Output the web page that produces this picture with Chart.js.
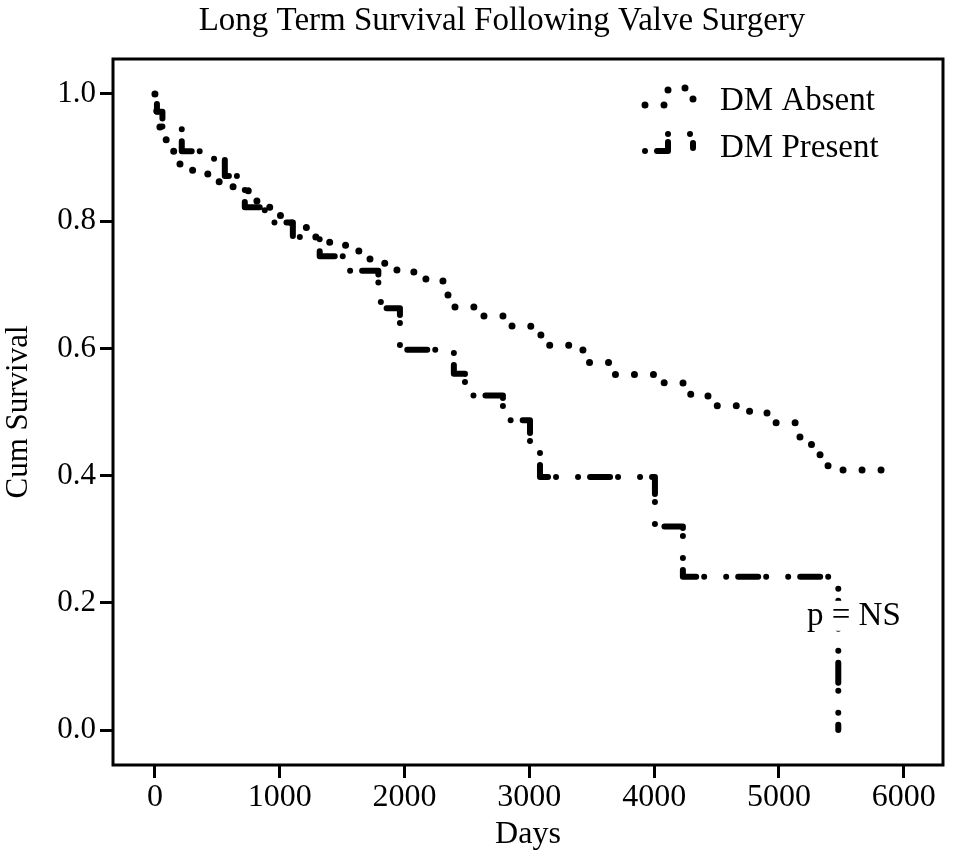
<!DOCTYPE html>
<html>
<head>
<meta charset="utf-8">
<title>Long Term Survival Following Valve Surgery</title>
<script src="https://cdn.jsdelivr.net/npm/chart.js@4/dist/chart.umd.min.js"></script>
<style>
  body { margin: 0; background: #fff; }
  canvas { display: block; }
</style>
</head>
<body>
<canvas class="km-chart" width="954" height="861"></canvas>
<script>
// Kaplan-Meier steps (days, cum survival after the drop)
const absentDays = [0, 15, 40, 90, 160, 250, 360, 460, 545, 680, 817, 921, 1018, 1100, 1218, 1400, 1538, 1723, 1939, 2171, 2348, 2404, 2628, 2861, 3069, 3141, 3429, 3646, 4030, 4231, 4431, 4688, 4904, 5168, 5329, 5393, 5880];
const absentSurv = [1.0, 0.95, 0.93, 0.91, 0.89, 0.88, 0.874, 0.862, 0.854, 0.848, 0.822, 0.809, 0.797, 0.79, 0.775, 0.762, 0.753, 0.734, 0.72, 0.706, 0.683, 0.665, 0.651, 0.635, 0.621, 0.605, 0.578, 0.559, 0.546, 0.528, 0.51, 0.501, 0.483, 0.449, 0.422, 0.409, 0.409];

const presentDays = [0, 16, 60, 215, 385, 560, 705, 720, 880, 1105, 1320, 1520, 1790, 1810, 1963, 2395, 2484, 2788, 3005, 3085, 4006, 4230, 5475];
const presentSurv = [1.0, 0.972, 0.945, 0.91, 0.898, 0.871, 0.861, 0.822, 0.798, 0.775, 0.745, 0.722, 0.69, 0.663, 0.598, 0.56, 0.526, 0.487, 0.443, 0.398, 0.32, 0.241, 0.0];

const xTicks = [0, 1000, 2000, 3000, 4000, 5000, 6000];
const xTickLabels = ['0', '1000', '2000', '3000', '4000', '5000', '6000'];
const yTicks = [0, 0.2, 0.4, 0.6, 0.8, 1.0];
const yTickLabels = ['0.0', '0.2', '0.4', '0.6', '0.8', '1.0'];

const chartTitle = 'Long Term Survival Following Valve Surgery';
const seriesNames = ['DM Absent', 'DM Present'];
const pLabel = 'p = NS';
const pLabelAt = { x: 5600, y: 0.178 };

const serif = '"Liberation Serif", "Times New Roman", serif';
const absentDash = [0, 19];
const presentDash = [0, 12, 20, 8, 0, 22];

function toPoints(days, surv) {
  return days.map((d, i) => ({ x: d, y: surv[i] }));
}

// title, box round the plot, legend and p value
const extras = {
  id: 'extras',
  afterDraw(chart) {
    const ctx = chart.ctx;
    const a = chart.chartArea;
    ctx.save();
    ctx.fillStyle = '#000';
    ctx.font = '33px ' + serif;
    ctx.textAlign = 'center';
    ctx.textBaseline = 'alphabetic';
    ctx.fillText(chartTitle, 502, 30);

    ctx.strokeStyle = '#000';
    ctx.lineWidth = 3;
    ctx.setLineDash([]);
    ctx.strokeRect(a.left, a.top, a.right - a.left, a.bottom - a.top);

    // legend
    const styles = [
      { dash: absentDash, width: 7, base: 105 },
      { dash: presentDash, width: 6, base: 151 }
    ];
    ctx.lineCap = 'round';
    ctx.lineJoin = 'round';
    for (let i = 0; i < styles.length; i++) {
      const s = styles[i];
      ctx.beginPath();
      ctx.setLineDash(s.dash);
      ctx.lineWidth = s.width;
      ctx.moveTo(645, s.base);
      ctx.lineTo(668, s.base);
      ctx.lineTo(668, s.base - 17);
      ctx.lineTo(693, s.base - 17);
      ctx.lineTo(693, s.base - 3);
      ctx.stroke();
    }
    ctx.setLineDash([]);
    ctx.textBaseline = 'middle';
    ctx.textAlign = 'left';
    ctx.fillText(seriesNames[0], 720, 101);
    ctx.fillText(seriesNames[1], 720, 148);

    // p value label, on a white patch like the original
    const px = chart.scales.x.getPixelForValue(pLabelAt.x);
    const py = chart.scales.y.getPixelForValue(pLabelAt.y);
    const w = ctx.measureText(pLabel).width;
    ctx.fillStyle = '#fff';
    ctx.fillRect(px - w / 2, py - 16, w, 30);
    ctx.fillStyle = '#000';
    ctx.textAlign = 'center';
    ctx.fillText(pLabel, px, py);
    ctx.restore();
  }
};

const chart = document.querySelector('.km-chart');
new Chart(chart, {
  type: 'line',
  data: {
    datasets: [{
      label: seriesNames[0],
      data: toPoints(absentDays, absentSurv),
      stepped: true,
      borderColor: '#000',
      borderWidth: 7,
      borderDash: absentDash,
      borderCapStyle: 'round',
      borderJoinStyle: 'round',
      pointRadius: 0,
      fill: false
    }, {
      label: seriesNames[1],
      data: toPoints(presentDays, presentSurv),
      stepped: true,
      borderColor: '#000',
      borderWidth: 6,
      borderDash: presentDash,
      borderCapStyle: 'round',
      borderJoinStyle: 'round',
      pointRadius: 0,
      fill: false
    }]
  },
  options: {
    responsive: false,
    animation: false,
    devicePixelRatio: 1,
    layout: { padding: { left: 0, right: 11, top: 59, bottom: 0 } },
    plugins: {
      legend: { display: false },
      tooltip: { enabled: false },
      title: { display: false }
    },
    scales: {
      x: {
        type: 'linear',
        min: -336,
        max: 6314,
        afterBuildTicks: s => { s.ticks = xTicks.map(v => ({ value: v })); },
        afterFit: s => { s.height = 96; },
        border: { display: false },
        grid: { drawOnChartArea: false, drawTicks: true, tickLength: 13, color: '#000', lineWidth: 3 },
        ticks: {
          color: '#000',
          padding: 0,
          maxRotation: 0,
          font: { family: serif, size: 32 },
          callback: (v, i) => xTickLabels[i]
        },
        title: {
          display: true,
          text: 'Days',
          color: '#000',
          font: { family: serif, size: 32 },
          padding: { top: 0, bottom: 7 }
        }
      },
      y: {
        type: 'linear',
        min: -0.055,
        max: 1.055,
        afterBuildTicks: s => { s.ticks = yTicks.map(v => ({ value: v })); },
        afterFit: s => { s.width = 113; },
        border: { display: false },
        grid: { drawOnChartArea: false, drawTicks: true, tickLength: 13, color: '#000', lineWidth: 3 },
        ticks: {
          color: '#000',
          padding: 4,
          font: { family: serif, size: 31 },
          callback: (v, i) => yTickLabels[i]
        },
        title: {
          display: true,
          text: 'Cum Survival',
          color: '#000',
          font: { family: serif, size: 31 },
          padding: { top: 0, bottom: 0 }
        }
      }
    }
  },
  plugins: [extras]
});
</script>
</body>
</html>
